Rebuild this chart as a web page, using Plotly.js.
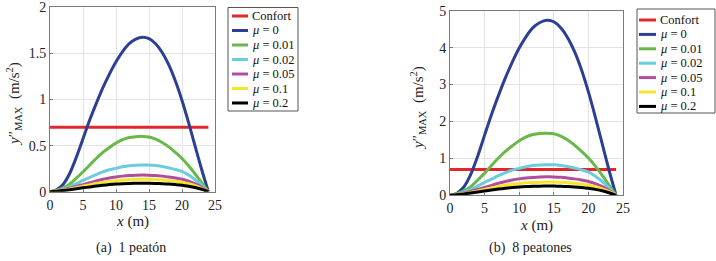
<!DOCTYPE html>
<html>
<head>
<meta charset="utf-8">
<script src="https://cdn.plot.ly/plotly-3.0.1.min.js"></script>
<style>html,body{margin:0;padding:0;background:#fff;}#chart{width:716px;height:261px;}</style>
</head>
<body>
<div id="chart"></div>
<script>
// x positions along the span (m)
const xPos = [0,1,2,3,4,5,6,7,8,9,10,11,12,13,14,15,16,17,18,19,20,21,22,23,24];
const confortX = [0, 24];
const confortY = [0.7, 0.7];

// (a) 1 peatón
const a_mu0    = [0,0.02,0.08,0.20,0.375,0.575,0.775,0.955,1.125,1.275,1.41,1.52,1.605,1.655,1.675,1.66,1.605,1.51,1.375,1.20,0.99,0.75,0.49,0.235,0];
const a_mu001  = [0,0.015,0.042,0.084,0.147,0.216,0.288,0.36,0.426,0.48,0.528,0.564,0.588,0.597,0.6,0.594,0.57,0.534,0.486,0.426,0.36,0.282,0.192,0.096,0];
const a_mu002  = [0,0.010,0.029,0.055,0.087,0.122,0.154,0.186,0.215,0.238,0.255,0.27,0.281,0.287,0.29,0.289,0.283,0.273,0.258,0.241,0.22,0.18,0.13,0.07,0];
const a_mu005  = [0,0.008,0.022,0.038,0.058,0.077,0.097,0.117,0.135,0.149,0.16,0.169,0.175,0.178,0.18,0.179,0.176,0.169,0.16,0.149,0.135,0.113,0.085,0.047,0];
const a_mu01   = [0,0.007,0.018,0.03,0.045,0.059,0.074,0.089,0.101,0.112,0.12,0.127,0.131,0.134,0.135,0.134,0.132,0.128,0.122,0.113,0.103,0.086,0.065,0.036,0];
const a_mu02   = [0,0.006,0.013,0.022,0.032,0.042,0.052,0.062,0.07,0.077,0.083,0.087,0.09,0.091,0.092,0.092,0.09,0.087,0.083,0.077,0.07,0.059,0.045,0.026,0];

// (b) 8 peatones
const b_mu0    = [0,0.057,0.226,0.566,1.06,1.63,2.19,2.70,3.18,3.61,3.99,4.30,4.54,4.68,4.74,4.70,4.54,4.27,3.89,3.40,2.80,2.12,1.39,0.665,0];
const b_mu001  = [0,0.042,0.118,0.235,0.41,0.60,0.81,1.01,1.19,1.34,1.48,1.58,1.645,1.675,1.68,1.665,1.60,1.50,1.36,1.19,1.01,0.79,0.54,0.27,0];
const b_mu002  = [0,0.029,0.083,0.158,0.249,0.349,0.44,0.531,0.614,0.681,0.73,0.772,0.805,0.822,0.83,0.826,0.809,0.78,0.739,0.689,0.631,0.515,0.374,0.199,0];
const b_mu005  = [0,0.023,0.06,0.105,0.16,0.215,0.27,0.325,0.375,0.415,0.445,0.47,0.485,0.495,0.5,0.498,0.488,0.47,0.445,0.415,0.375,0.315,0.235,0.13,0];
const b_mu01   = [0,0.018,0.047,0.079,0.119,0.158,0.198,0.238,0.27,0.299,0.32,0.338,0.349,0.356,0.36,0.358,0.351,0.34,0.324,0.302,0.274,0.23,0.173,0.097,0];
const b_mu02   = [0,0.015,0.035,0.06,0.088,0.115,0.143,0.168,0.19,0.21,0.225,0.236,0.244,0.248,0.25,0.249,0.244,0.236,0.225,0.21,0.19,0.16,0.123,0.07,0];

const seriesNames = ['Confort','<i>μ</i> = 0','<i>μ</i> = 0.01','<i>μ</i> = 0.02','<i>μ</i> = 0.05','<i>μ</i> = 0.1','<i>μ</i> = 0.2'];
const colors = ['#e3262b','#2c3f93','#68b84a','#6ccbdc','#b24c9f','#f5e62a','#000000'];
const xTicks = [0,5,10,15,20,25];
const yTicksA = [0,0.5,1,1.5,2];
const yTicksB = [0,1,2,3,4,5];

const panelA = [a_mu0,a_mu001,a_mu002,a_mu005,a_mu01,a_mu02];
const panelB = [b_mu0,b_mu001,b_mu002,b_mu005,b_mu01,b_mu02];

function makeTraces(panel, xa, ya) {
  const t = [{x: confortX, y: confortY, name: seriesNames[0], mode: 'lines',
    line: {color: colors[0], width: 3}, xaxis: xa, yaxis: ya}];
  panel.forEach((ys, i) => t.push({x: xPos, y: ys, name: seriesNames[i+1], mode: 'lines',
    line: {color: colors[i+1], width: 3, shape: 'spline', smoothing: 0.8}, xaxis: xa, yaxis: ya}));
  return t;
}

const data = makeTraces(panelA, 'x', 'y').concat(makeTraces(panelB, 'x2', 'y2'));

const W = 716, H = 261;
const px = v => v / W, py = v => 1 - v / H;
const serif = '"Liberation Serif", "Times New Roman", serif';
const axBase = {showline: true, mirror: true, linecolor: '#7a7a7a', linewidth: 1,
  showgrid: true, gridcolor: '#e4e4e4', gridwidth: 1, zeroline: false,
  ticks: 'inside', ticklen: 3, tickcolor: '#7a7a7a',
  tickfont: {family: serif, size: 14, color: '#222'}, fixedrange: true};

// Legend boxes drawn as shapes + annotations (box geometry in pixels)
const legendBoxes = [
  {x0: 228, x1: 298, y0: 7.5, y1: 111, row0: 16, step: 14.5, s0: 232, s1: 248, tx: 250},
  {x0: 637, x1: 715, y0: 9, y1: 113, row0: 20, step: 14.4, s0: 639, s1: 656, tx: 658}
];
const shapes = [], annotations = [];
legendBoxes.forEach(b => {
  shapes.push({type: 'rect', xref: 'paper', yref: 'paper', x0: px(b.x0), x1: px(b.x1), y0: py(b.y1), y1: py(b.y0),
    line: {color: '#555', width: 1}, fillcolor: '#fff', layer: 'above'});
  seriesNames.forEach((n, i) => {
    const yy = b.row0 + i * b.step;
    shapes.push({type: 'line', xref: 'paper', yref: 'paper', x0: px(b.s0), x1: px(b.s1), y0: py(yy), y1: py(yy),
      line: {color: colors[i], width: 3}, layer: 'above'});
    annotations.push({text: n, xref: 'paper', yref: 'paper', x: px(b.tx), y: py(yy), xanchor: 'left', yanchor: 'middle',
      showarrow: false, font: {family: serif, size: 12.5, color: '#111'}});
  });
});

const yTitle = '<i>y</i>″<sub>MAX</sub>  (m/s<sup>2</sup>)';
const txt = (text, x, y, size, angle) => ({text: text, xref: 'paper', yref: 'paper', x: px(x), y: py(y),
  xanchor: 'center', yanchor: 'middle', textangle: angle || 0, showarrow: false,
  font: {family: serif, size: size, color: '#222'}});
annotations.push(txt(yTitle, 14, 104, 15, -90));
annotations.push(txt(yTitle, 418, 108, 15, -90));
annotations.push(txt('<i>x</i> (m)', 132, 221, 15));
annotations.push(txt('<i>x</i> (m)', 536, 225, 15));
annotations.push(txt('(a)  1 peatón', 131, 248, 14));
annotations.push(txt('(b)  8 peatones', 530, 248, 14));

const layout = {
  width: W, height: H, margin: {l: 0, r: 0, t: 0, b: 0},
  paper_bgcolor: '#fff', plot_bgcolor: '#fff', showlegend: false,
  xaxis: Object.assign({}, axBase, {domain: [px(50), px(215)], range: [0, 25], tickvals: xTicks, anchor: 'y'}),
  yaxis: Object.assign({}, axBase, {domain: [py(191.7), py(7.3)], range: [0, 2], tickvals: yTicksA, anchor: 'x'}),
  xaxis2: Object.assign({}, axBase, {domain: [px(450), px(623)], range: [0, 25], tickvals: xTicks, anchor: 'y2'}),
  yaxis2: Object.assign({}, axBase, {domain: [py(195.3), py(10.7)], range: [0, 5], tickvals: yTicksB, anchor: 'x2'}),
  shapes: shapes,
  annotations: annotations
};

Plotly.newPlot('chart', data, layout, {staticPlot: true, displayModeBar: false});
</script>
</body>
</html>
